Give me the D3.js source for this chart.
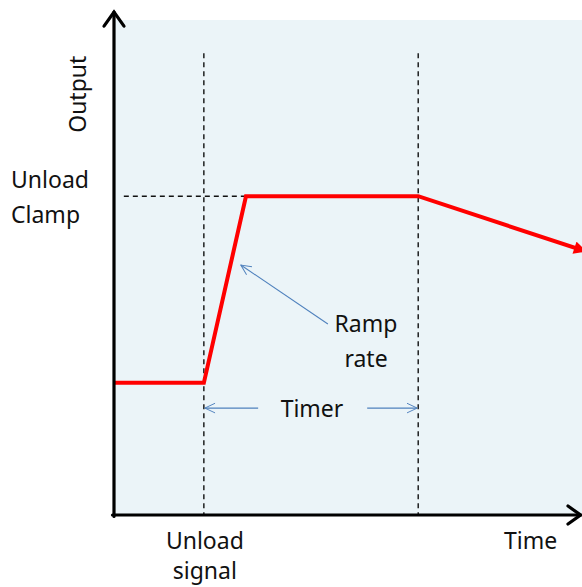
<!DOCTYPE html>
<html><head><meta charset="utf-8">
<script src="https://cdn.jsdelivr.net/npm/d3@7"></script>
<style>html,body{margin:0;padding:0;background:#fff;}svg{display:block;}</style>
</head><body>
<svg id="chart" width="582" height="587"></svg>
<script>
// ---- data (arbitrary units) ----
const times = [0, 1.92, 2.82, 6.5, 10.1];          // time points of the output trace
const outputs = [26.7, 26.7, 64.4, 64.4, 53.2];    // output at each time point
const unloadSignalTime = 1.92;
const timerEndTime = 6.5;
const unloadClampLevel = 64.4;
const axisLabels = ["Output", "Time"];
const yLabelLines = ["Unload", "Clamp"];
const xLabelLines = ["Unload", "signal"];
const rampLabelLines = ["Ramp", "rate"];
const timerLabel = "Timer";

const svg = d3.select("#chart");
const x = d3.scaleLinear().domain([0, 10]).range([114, 582]);
const y = d3.scaleLinear().domain([0, 100]).range([515, 20]);
const font = "'Noto Sans', sans-serif";
const fs = 23;

const defs = svg.append("defs");
defs.append("marker").attr("id","redHead").attr("viewBox","0 0 10 10").attr("refX",10).attr("refY",5)
  .attr("markerWidth",3.6).attr("markerHeight",3.2).attr("orient","auto").attr("markerUnits","strokeWidth")
  .append("path").attr("d","M0,0 L10,5 L0,10 Z").attr("fill","#ff0000");
defs.append("marker").attr("id","blueHead").attr("viewBox","0 0 20 20").attr("refX",19).attr("refY",10)
  .attr("markerWidth",12).attr("markerHeight",12).attr("orient","auto").attr("markerUnits","userSpaceOnUse")
  .append("path").attr("d","M2,2 L19,10 L2,18").attr("fill","none").attr("stroke","#4f81bd").attr("stroke-width",1.6);

// plot background
svg.append("rect").attr("x", x(0)).attr("y", y(100)).attr("width", x(10)-x(0)).attr("height", y(0)-y(100))
  .attr("fill", "#ebf4f8");

// dashed guides
const dashed = {stroke:"#111", "stroke-width":1.4, "stroke-dasharray":"5,4", fill:"none"};
function applyAttrs(sel, o){ for (const k in o) sel.attr(k, o[k]); return sel; }
applyAttrs(svg.append("line").attr("x1", x(unloadSignalTime)).attr("x2", x(unloadSignalTime))
  .attr("y1", y(93.3)).attr("y2", y(0)), dashed);
applyAttrs(svg.append("line").attr("x1", x(timerEndTime)).attr("x2", x(timerEndTime))
  .attr("y1", y(93.3)).attr("y2", y(0)), dashed);
applyAttrs(svg.append("line").attr("x1", x(0.21)).attr("x2", x(times[2]))
  .attr("y1", y(unloadClampLevel)).attr("y2", y(unloadClampLevel)), dashed);

// output trace
const line = d3.line().x((d,i)=>x(times[i])).y(d=>y(d));
svg.append("path").datum(outputs).attr("d", line).attr("fill","none").attr("stroke","#ff0000")
  .attr("stroke-width",4).attr("stroke-linejoin","miter").attr("marker-end","url(#redHead)");

// axes
const ax = svg.append("g").attr("stroke","#000").attr("stroke-width",3.2).attr("fill","none")
  .attr("stroke-linecap","round");
ax.append("line").attr("x1", x(0)).attr("x2", x(0)).attr("y1", y(0)+1.5).attr("y2", y(101.6));
ax.append("line").attr("x1", x(0)-1.5).attr("x2", x(10)-1.5).attr("y1", y(0)).attr("y2", y(0));
ax.append("path").attr("d", `M${x(0)-10},${y(101.6)+14} L${x(0)},${y(101.6)} L${x(0)+10},${y(101.6)+14}`)
  .attr("stroke-linejoin","miter");
ax.append("path").attr("d", `M${x(10)-14},${y(0)-9} L${x(10)-1.5},${y(0)} L${x(10)-14},${y(0)+9}`)
  .attr("stroke-linejoin","miter");

// annotation arrows
const blue = {stroke:"#4f81bd", "stroke-width":1.1, fill:"none", "marker-end":"url(#blueHead)"};
applyAttrs(svg.append("line").attr("x1", x(4.57)).attr("y1", y(38.6)).attr("x2", x(2.71)).attr("y2", y(50.5)), blue);
applyAttrs(svg.append("line").attr("x1", x(3.08)).attr("y1", y(21.6)).attr("x2", x(unloadSignalTime)+1).attr("y2", y(21.6)), blue);
applyAttrs(svg.append("line").attr("x1", x(5.41)).attr("y1", y(21.6)).attr("x2", x(timerEndTime)-1).attr("y2", y(21.6)), blue);

// text
const txt = svg.append("g").attr("font-family", font).attr("font-size", fs).attr("fill","#111");
txt.append("text").attr("transform", `translate(86,${y(85)}) rotate(-90)`).attr("text-anchor","middle").text(axisLabels[0]);
txt.append("text").attr("x", x(8.9)).attr("y", 549).attr("text-anchor","middle").text(axisLabels[1]);
yLabelLines.forEach((t,i)=> txt.append("text").attr("x", 11).attr("y", 188 + i*35).text(t));
xLabelLines.forEach((t,i)=> txt.append("text").attr("x", x(unloadSignalTime)+1).attr("y", 549 + i*30).attr("text-anchor","middle").text(t));
rampLabelLines.forEach((t,i)=> txt.append("text").attr("x", 366).attr("y", 332 + i*35).attr("text-anchor","middle").text(t));
txt.append("text").attr("x", 312).attr("y", 417).attr("text-anchor","middle").text(timerLabel);
</script>
</body></html>
